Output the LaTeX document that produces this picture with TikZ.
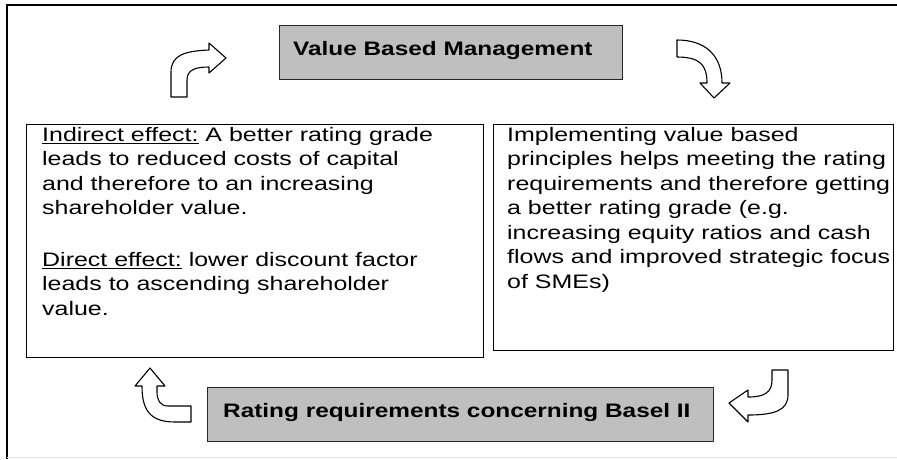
\documentclass[tikz,border=0pt]{standalone}
\usepackage{fontspec}
\setmainfont{Liberation Sans}
\newfontfamily\bodyfont[FakeStretch=1.28]{Liberation Sans}
\newfontfamily\titlefont[FakeStretch=1.25]{Liberation Sans}
\begin{document}
\begin{tikzpicture}[x=1pt,y=-1pt,
  frame/.style={draw=black,line width=1.3pt},
  textbox/.style={draw=black,line width=1.1pt,fill=white,anchor=north west,inner sep=0pt},
  titlebox/.style={draw=black!85,line width=1.1pt,fill=black!25,anchor=north west,inner sep=0pt},
  titletext/.style={font=\titlefont\fontsize{19.5}{22}\selectfont\bfseries,anchor=base west,inner sep=0pt},
  bodytext/.style={font=\bodyfont\fontsize{19.5}{24.5}\selectfont,align=left,anchor=north west,inner sep=0pt},
  blockarrow/.style={draw=black,line width=1.1pt,fill=white,line join=round}]
\useasboundingbox (0,0) rectangle (897,459);
\fill[white] (0,0) rectangle (897,459);
% outer frame
\coordinate (ftl) at (7,5);
\coordinate (ftr) at (897,5);
\coordinate (fbl) at (7,459);
\draw[frame] (ftr) -- (ftl) -- (fbl);
\coordinate (gl) at (7,457.5);
\coordinate (gr) at (897,457.5);
\draw[black!12,line width=0.8pt] (gl) -- (gr);
% title boxes
\node[titlebox,minimum width=343pt,minimum height=54pt] (vbm) at (279,25) {};
\node[titletext] (vbmt) at ([xshift=14pt,yshift=-3pt]vbm.west) {Value Based Management};
\node[titlebox,minimum width=506pt,minimum height=54pt] (rrb) at (207,387) {};
\node[titletext] (rrbt) at ([xshift=16pt,yshift=-3pt]rrb.west) {Rating requirements concerning Basel II};
% text boxes
\node[textbox,minimum width=457pt,minimum height=233pt] (lbox) at (26,124) {};
\node[bodytext] (ltext) at (42,127) {\underline{Indirect effect:} A better rating grade\\
leads to reduced costs of capital\\
and therefore to an increasing\\
shareholder value.\\[27pt]
\underline{Direct effect:} lower discount factor\\
leads to ascending shareholder\\
value.};
\node[textbox,minimum width=400pt,minimum height=226pt] (rbox) at (493,124) {};
\node[bodytext] (rtext) at (507,127) {Implementing value based\\
principles helps meeting the rating\\
requirements and therefore getting\\
a better rating grade (e.g.\\
increasing equity ratios and cash\\
flows and improved strategic focus\\
of SMEs)};
% block arrows
\draw[blockarrow] (171,97) -- (171,72) .. controls (171,55) and (185,51) .. (209,50)
  -- (209,43) -- (226,58) -- (209,73) -- (209,67)
  .. controls (195,67) and (187,70) .. (187,80) -- (187,97) -- cycle;
\draw[blockarrow] (677,40) .. controls (705,40) and (722,55) .. (722,83)
  -- (730,83) -- (714,98) -- (700,83) -- (707,83)
  .. controls (707,65) and (700,57) .. (677,57) -- cycle;
\draw[blockarrow] (788,370) -- (788,395) .. controls (788,410) and (775,415) .. (748,415)
  -- (748,422) -- (729,403) -- (748,390) -- (748,397)
  .. controls (765,397) and (772,392) .. (772,380) -- (772,370) -- cycle;
\draw[blockarrow] (191,406) -- (168,406) .. controls (160,406) and (157,400) .. (157,392)
  -- (157,386) -- (165,386) -- (150,368) -- (135,386) -- (142,386)
  .. controls (142,410) and (150,422) .. (175,422) -- (191,422) -- cycle;
\end{tikzpicture}
\end{document}
